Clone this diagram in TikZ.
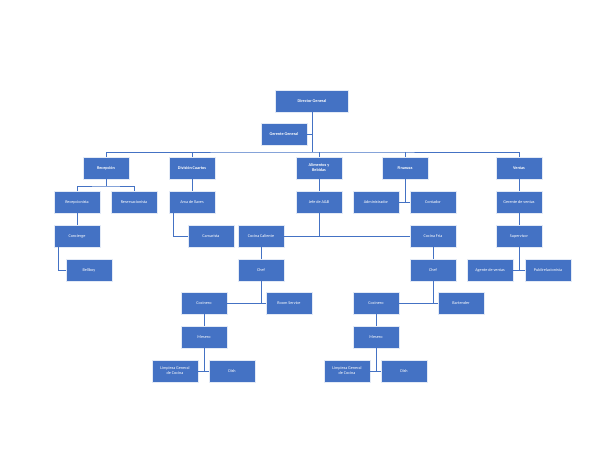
\documentclass[tikz,border=0pt]{standalone}
\usepackage{fontspec}
\setmainfont{Carlito}
\usepackage{tikz}
\definecolor{boxblue}{HTML}{4472C4}
\tikzset{
	puesto/.style={draw=white!85!boxblue, line width=0.6pt, fill=boxblue, text=white, minimum width=46pt, minimum height=22pt, inner sep=1pt, align=center, font=\fontsize{4.2}{5}\selectfont},
	enlace/.style={draw=boxblue, line width=0.9pt}
}
\begin{document}
\begin{tikzpicture}[x=1pt,y=-1pt]
	\useasboundingbox (0,0) rectangle (600,464);
	\node[puesto, minimum width=73pt] (dir) at (312,101) {\textbf{Director General}};
	\node[puesto] (ger) at (284,134) {\textbf{Gerente General}};
	\node[puesto] (rec) at (106,168) {\textbf{Recepción}};
	\node[puesto] (div) at (192,168) {\textbf{División Cuartos}};
	\node[puesto] (ali) at (319,168) {\textbf{Alimentos y}\\\textbf{Bebidas}};
	\node[puesto] (fin) at (405,168) {\textbf{Finanzas}};
	\node[puesto] (ven) at (519,168) {\textbf{Ventas}};
	\node[puesto] (rcp) at (77,202) {Recepcionista};
	\node[puesto] (res) at (134,202) {Reservacionista};
	\node[puesto] (arm) at (192,202) {Ama de llaves};
	\node[puesto] (jef) at (319,202) {Jefe de A\&B};
	\node[puesto] (adm) at (376,202) {Administrador};
	\node[puesto] (con) at (433,202) {Contador};
	\node[puesto] (gve) at (519,202) {Gerente de ventas};
	\node[puesto] (cnc) at (77,236) {Concierge};
	\node[puesto] (cam) at (211,236) {Camarista};
	\node[puesto] (cca) at (261,236) {Cocina Caliente};
	\node[puesto] (cfr) at (433,236) {Cocina Fria};
	\node[puesto] (sup) at (519,236) {Supervisor};
	\node[puesto] (bel) at (89,270) {Bellboy};
	\node[puesto] (chA) at (261,270) {Chef};
	\node[puesto] (chB) at (433,270) {Chef};
	\node[puesto] (age) at (490,270) {Agente de ventas};
	\node[puesto] (pub) at (548,270) {Publirelacionista};
	\node[puesto] (coA) at (204,303) {Cocinero};
	\node[puesto] (roo) at (289,303) {Room Service};
	\node[puesto] (coB) at (376,303) {Cocinero};
	\node[puesto] (bar) at (461,303) {Bartender};
	\node[puesto] (meA) at (204,337) {Mesero};
	\node[puesto] (meB) at (376,337) {Mesero};
	\node[puesto] (liA) at (175,371) {Limpieza General\\de Cocina};
	\node[puesto] (diA) at (232,371) {Dish};
	\node[puesto] (liB) at (347,371) {Limpieza General\\de Cocina};
	\node[puesto] (diB) at (404,371) {Dish};
	\begin{scope}[on background layer/.style={}]
	% tronco principal
	\draw[enlace] (dir.south) -- (312,152);
	\draw[enlace] (ger.east) -- (312,134);
	\draw[enlace] (rec.north) |- (312,152) -| (ven.north);
	\draw[enlace] (div.north) -- (192,152);
	\draw[enlace] (ali.north) -- (319,152);
	\draw[enlace] (fin.north) -- (405,152);
	% recepcion
	\draw[enlace] (rec.south) -- (106,186);
	\draw[enlace] (rcp.north) |- (106,186) -| (res.north);
	\draw[enlace] (rcp.south) -- (cnc.north);
	\draw[enlace] (58,247) |- (bel.west);
	% cuartos
	\draw[enlace] (div.south) -- (arm.north);
	\draw[enlace] (173,213) |- (cam.west);
	% alimentos
	\draw[enlace] (ali.south) -- (jef.north);
	\draw[enlace] (jef.south) -- (319,236);
	\draw[enlace] (cca.east) -- (cfr.west);
	\draw[enlace] (cca.south) -- (chA.north);
	\draw[enlace] (cfr.south) -- (chB.north);
	\draw[enlace] (chA.south) -- (261,303);
	\draw[enlace] (chB.south) -- (433,303);
	\draw[enlace] (coA.east) -- (roo.west);
	\draw[enlace] (coB.east) -- (bar.west);
	\draw[enlace] (coA.south) -- (meA.north);
	\draw[enlace] (coB.south) -- (meB.north);
	\draw[enlace] (meA.south) -- (204,371);
	\draw[enlace] (meB.south) -- (376,371);
	\draw[enlace] (liA.east) -- (diA.west);
	\draw[enlace] (liB.east) -- (diB.west);
	% finanzas
	\draw[enlace] (fin.south) -- (405,202);
	\draw[enlace] (adm.east) -- (con.west);
	% ventas
	\draw[enlace] (ven.south) -- (gve.north);
	\draw[enlace] (gve.south) -- (sup.north);
	\draw[enlace] (sup.south) -- (519,270);
	\draw[enlace] (age.east) -- (pub.west);
	\end{scope}
\end{tikzpicture}
\end{document}
